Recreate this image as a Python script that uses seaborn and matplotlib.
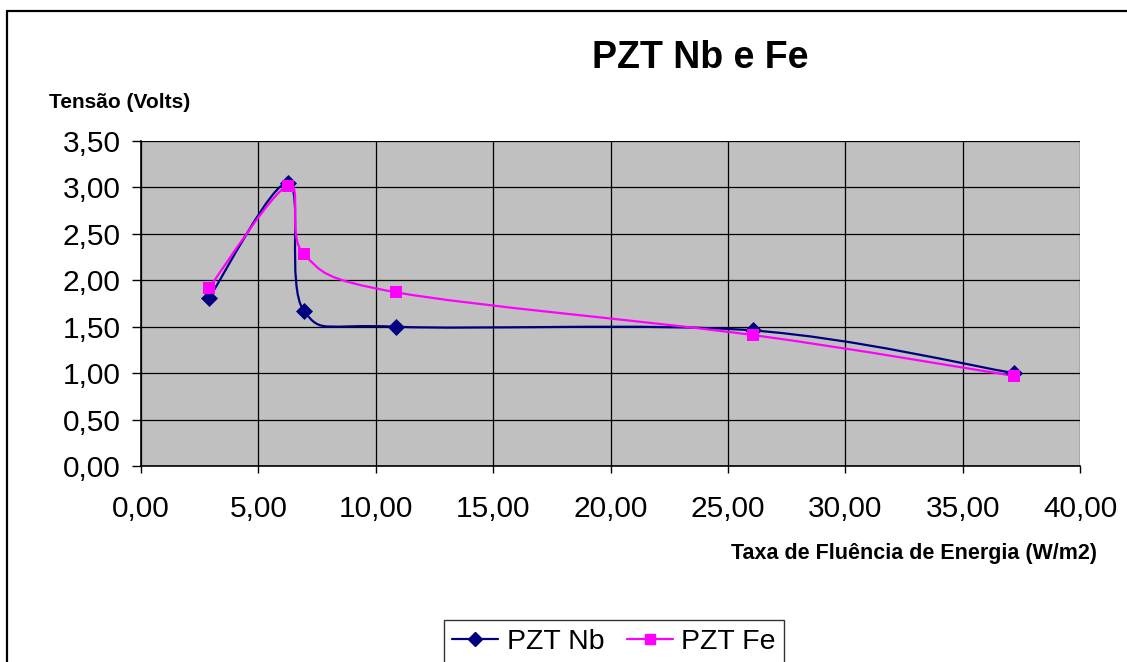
import numpy as np
import pandas as pd
import matplotlib
matplotlib.use("Agg")
import matplotlib.pyplot as plt
import seaborn as sns
from matplotlib.path import Path
from matplotlib.patches import PathPatch
from matplotlib.lines import Line2D

# ---- data ----
x_vals = [2.90, 6.26, 6.94, 10.88, 26.07, 37.19]
y_nb = [1.81, 3.05, 1.67, 1.50, 1.46, 1.00]
y_fe = [1.92, 3.02, 2.28, 1.87, 1.41, 0.97]
series_names = ["PZT Nb", "PZT Fe"]
x_ticks = [0, 5, 10, 15, 20, 25, 30, 35, 40]
y_ticks = [0, 0.5, 1.0, 1.5, 2.0, 2.5, 3.0, 3.5]
title = "PZT Nb e Fe"
ylabel = "Tensão (Volts)"
xlabel = "Taxa de Fluência de Energia (W/m2)"

NB_COLOR = "#000080"
FE_COLOR = "#FF00FF"

sns.set_style("white")
plt.rcParams["font.family"] = ["Liberation Sans", "DejaVu Sans"]
plt.rcParams["text.color"] = "black"
plt.rcParams["xtick.color"] = "black"
plt.rcParams["ytick.color"] = "black"
plt.rcParams["xtick.labelcolor"] = "black"
plt.rcParams["ytick.labelcolor"] = "black"

fig = plt.figure(figsize=(11.27, 6.62), dpi=100)
ax = fig.add_axes([141/1127, 1-466/662, (1080-141)/1127, (466-141)/662])
ax.set_facecolor("#C0C0C0")


def smooth_path(xs, ys):
    """Excel-like smoothed line (Catmull-Rom bezier through the data points)."""
    pts = np.column_stack([xs, ys]).astype(float)
    n = len(pts)
    verts = [pts[0]]
    codes = [Path.MOVETO]
    for i in range(n - 1):
        p0 = pts[i - 1] if i > 0 else pts[i]
        p1 = pts[i]
        p2 = pts[i + 1]
        p3 = pts[i + 2] if i + 2 < n else pts[i + 1]
        c1 = p1 + (p2 - p0) / 6.0
        c2 = p2 - (p3 - p1) / 6.0
        verts += [c1, c2, p2]
        codes += [Path.CURVE4] * 3
    return Path(verts, codes)


df = pd.DataFrame({
    "x": x_vals * 2,
    "y": y_nb + y_fe,
    "serie": [series_names[0]] * len(x_vals) + [series_names[1]] * len(x_vals),
})

for ys, col in [(y_nb, NB_COLOR), (y_fe, FE_COLOR)]:
    patch = PathPatch(smooth_path(x_vals, ys), facecolor="none", edgecolor=col,
                      lw=1.6, zorder=3)
    ax.add_patch(patch)

sns.scatterplot(data=df[df.serie == series_names[0]], x="x", y="y", marker="D",
                color=NB_COLOR, s=75, edgecolor=NB_COLOR, linewidth=0, ax=ax, zorder=4,
                legend=False)
sns.scatterplot(data=df[df.serie == series_names[1]], x="x", y="y", marker="s",
                color=FE_COLOR, s=80, edgecolor=FE_COLOR, linewidth=0, ax=ax, zorder=5,
                legend=False)

ax.set_xlim(0, 40)
ax.set_ylim(0, 3.5)
ax.set_xticks(x_ticks)
ax.set_yticks(y_ticks)
ax.set_xticklabels([f"{v:.2f}".replace(".", ",") for v in x_ticks])
ax.set_yticklabels([f"{v:.2f}".replace(".", ",") for v in y_ticks])
ax.set_xlabel("")
ax.set_ylabel("")
ax.grid(True, color="black", lw=0.9)
ax.set_axisbelow(True)
for s in ["top", "right"]:
    ax.spines[s].set_visible(False)
for s in ["left", "bottom"]:
    ax.spines[s].set_color("black")
    ax.spines[s].set_linewidth(1.2)
ax.tick_params(axis="x", direction="out", length=5, width=1, color="black",
               labelsize=21.5, pad=16, bottom=True, labelcolor="black")
ax.tick_params(axis="y", direction="out", length=6.5, width=1, color="black",
               labelsize=21.5, pad=8, left=True, labelcolor="black")

fig.text(700/1127, 1-58/662, title, ha="center", va="center", fontsize=27,
         fontweight="bold", color="black")
fig.text(49/1127, 1-103/662, ylabel, ha="left", va="center", fontsize=15,
         fontweight="bold", color="black")
fig.text(1097/1127, 1-554/662, xlabel, ha="right", va="center", fontsize=15.5,
         fontweight="bold", color="black")

handles = [
    Line2D([], [], color=NB_COLOR, lw=1.6, marker="D", markersize=7),
    Line2D([], [], color=FE_COLOR, lw=1.6, marker="s", markersize=7),
]
leg = fig.legend(handles, series_names, loc="upper center",
                 bbox_to_anchor=(614/1127, 1-606/662), ncol=2, fontsize=20.5,
                 frameon=True, fancybox=False, edgecolor="black", handlelength=1.6,
                 handletextpad=0.3, columnspacing=0.8, borderpad=0.3)
leg.get_frame().set_linewidth(1.0)
for t in leg.get_texts():
    t.set_color("black")

# outer chart border (top and left visible)
fig.add_artist(Line2D([7/1127, 1.0], [1-11/662, 1-11/662], color="black", lw=1.6,
                      transform=fig.transFigure))
fig.add_artist(Line2D([7/1127, 7/1127], [0.0, 1-11/662], color="black", lw=1.6,
                      transform=fig.transFigure))

fig.savefig("out.png", dpi=100, facecolor="white")
